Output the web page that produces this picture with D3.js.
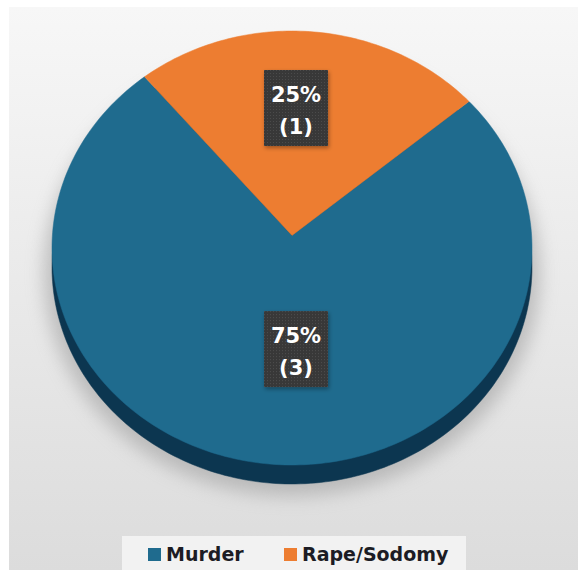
<!DOCTYPE html>
<html>
<head>
<meta charset="utf-8">
<script src="https://cdn.jsdelivr.net/npm/d3@7"></script>
<style>
  body { margin: 0; background: #fff; }
  svg { display: block; }
</style>
</head>
<body>
<div id="chart"></div>
<script>
// data
var categories = ["Murder", "Rape/Sodomy"];
var counts = [3, 1];

// styles
var colors = ["#1f6b8e", "#ed7d31"];
var rimColor = "#0c3650";
var width = 578, height = 570;
var cx = 292, cy = 248, rx = 240, ry = 217, depth = 19;
var tilt = 0.058;               // perspective: far side a bit smaller
var rotation = 50 * Math.PI / 180;
var labelRadius = [0.51, 0.61];
var labelShift = -5 * Math.PI / 180, labelDx = 4;

var total = d3.sum(counts);
var fmtPct = d3.format(".0%");

// map a point on the unit disc (angle clockwise from top, radius 0..1)
// to the screen, with a light perspective
function project(a, r, dy) {
  var u = r * Math.sin(a), v = -r * Math.cos(a);
  var w = 1 - tilt * v;
  var x = u * Math.sqrt(1 - tilt * tilt) / w;
  var y = (v - tilt) / w;
  return [cx + x * rx, cy + y * ry + (dy || 0)];
}

var svg = d3.select("#chart").append("svg")
    .attr("width", width)
    .attr("height", height);

var defs = svg.append("defs");

// background gradient
var bg = defs.append("linearGradient")
    .attr("id", "bg").attr("x1", 0).attr("y1", 0).attr("x2", 0).attr("y2", 1);
bg.append("stop").attr("offset", "0%").attr("stop-color", "#f7f7f7");
bg.append("stop").attr("offset", "100%").attr("stop-color", "#dcdcdc");

defs.append("filter").attr("id", "blur")
    .attr("x", "-20%").attr("y", "-20%").attr("width", "140%").attr("height", "140%")
  .append("feGaussianBlur").attr("stdDeviation", 9);

defs.append("filter").attr("id", "boxshadow")
    .attr("x", "-20%").attr("y", "-20%").attr("width", "140%").attr("height", "140%")
  .append("feDropShadow")
    .attr("dx", 1).attr("dy", 2).attr("stdDeviation", 2)
    .attr("flood-color", "#000").attr("flood-opacity", 0.35);

// dotted texture for the label boxes
var pat = defs.append("pattern")
    .attr("id", "dots").attr("width", 3).attr("height", 3)
    .attr("patternUnits", "userSpaceOnUse");
pat.append("rect").attr("width", 3).attr("height", 3).attr("fill", "#393939");
pat.append("rect").attr("x", 1).attr("y", 1).attr("width", 1).attr("height", 1)
    .attr("fill", "#4c4c4c");

svg.append("rect")
    .attr("x", 9).attr("y", 7)
    .attr("width", width - 9).attr("height", height - 7)
    .attr("fill", "url(#bg)");

// shadow under the pie
svg.append("ellipse")
    .attr("cx", cx).attr("cy", cy + depth + 6)
    .attr("rx", rx + 8).attr("ry", ry + 6)
    .attr("fill", "#9a9a9a")
    .attr("opacity", 0.55)
    .attr("filter", "url(#blur)");

var pie = d3.pie()
    .sort(null)
    .startAngle(rotation)
    .endAngle(rotation + 2 * Math.PI);

var arcs = pie(counts);

var line = d3.line()
    .x(function(p) { return p[0]; })
    .y(function(p) { return p[1]; })
    .curve(d3.curveLinearClosed);

// outline of one slice: centre, then along the rim
function slicePath(d, dy) {
  var n = Math.max(2, Math.ceil((d.endAngle - d.startAngle) / 0.02));
  var pts = [project(0, 0, dy)];
  d3.range(n + 1).forEach(function(k) {
    var a = d.startAngle + (d.endAngle - d.startAngle) * k / n;
    pts.push(project(a, 1, dy));
  });
  return line(pts);
}

// side of the pie (rim)
svg.append("g")
  .selectAll("path")
  .data(arcs)
  .join("path")
    .attr("d", function(d) { return slicePath(d, depth); })
    .attr("fill", rimColor)
    .attr("stroke", rimColor)
    .attr("stroke-width", 0.5);

// top face
svg.append("g")
  .selectAll("path")
  .data(arcs)
  .join("path")
    .attr("d", function(d) { return slicePath(d, 0); })
    .attr("fill", function(d, i) { return colors[i]; })
    .attr("stroke", function(d, i) { return colors[i]; })
    .attr("stroke-width", 0.5);

// data labels
var labels = svg.append("g")
  .selectAll("g")
  .data(arcs)
  .join("g")
    .attr("transform", function(d, i) {
      var p = project((d.startAngle + d.endAngle) / 2 + labelShift, labelRadius[i], 0);
      return "translate(" + (p[0] + labelDx) + "," + p[1] + ")";
    });

labels.append("rect")
    .attr("x", -32).attr("y", -38)
    .attr("width", 64).attr("height", 76)
    .attr("fill", "url(#dots)")
    .attr("filter", "url(#boxshadow)");

labels.append("text")
    .attr("text-anchor", "middle")
    .attr("y", -6)
    .attr("fill", "#fff")
    .style("font", "bold 21px 'DejaVu Sans', sans-serif")
    .text(function(d) { return fmtPct(d.value / total); });

labels.append("text")
    .attr("text-anchor", "middle")
    .attr("y", 26)
    .attr("fill", "#fff")
    .style("font", "bold 21px 'DejaVu Sans', sans-serif")
    .text(function(d) { return "(" + d.value + ")"; });

// legend
svg.append("rect")
    .attr("x", 122).attr("y", 536)
    .attr("width", 344).attr("height", 34)
    .attr("fill", "#f2f2f2");

var legendX = [148, 284];
var legend = svg.append("g")
  .selectAll("g")
  .data(categories)
  .join("g")
    .attr("transform", function(d, i) { return "translate(" + legendX[i] + ",548)"; });

legend.append("rect")
    .attr("width", 13).attr("height", 13)
    .attr("fill", function(d, i) { return colors[i]; });

legend.append("text")
    .attr("x", 18).attr("y", 13)
    .attr("fill", "#1c1c24")
    .style("font", "bold 19px 'DejaVu Sans', sans-serif")
    .text(function(d) { return d; });
</script>
</body>
</html>
